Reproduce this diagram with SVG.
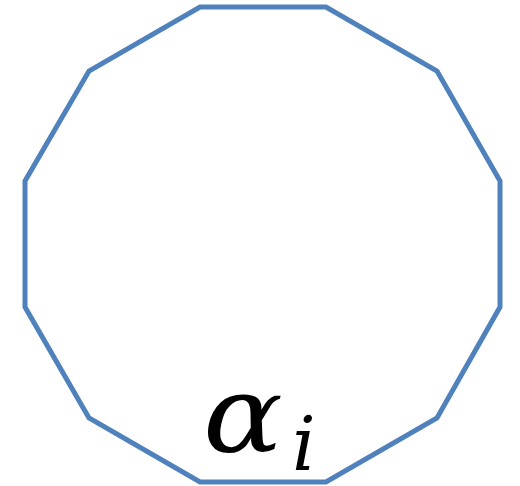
<svg xmlns="http://www.w3.org/2000/svg" width="520" height="486" viewBox="0 0 520 486">
<style>
.shape{fill:none;stroke:#4f81bd;stroke-width:5;stroke-linejoin:miter}
.lbl{font-family:"DejaVu Serif","Liberation Serif",serif;font-style:italic;fill:#000}
</style>
<rect width="520" height="486" fill="#fff"/>
<g id="dodecagon">
<polygon class="shape" points="200,7 326,7 437,71 500,181 500,307 437,418 326,482 200,482 89,418 25,307 25,181 89,71"/>
</g>
<g id="label">
<text class="lbl" x="203" y="452" font-size="106" textLength="80" lengthAdjust="spacingAndGlyphs">α</text>
<text class="lbl" x="292" y="470" font-size="74">i</text>
</g>
</svg>
